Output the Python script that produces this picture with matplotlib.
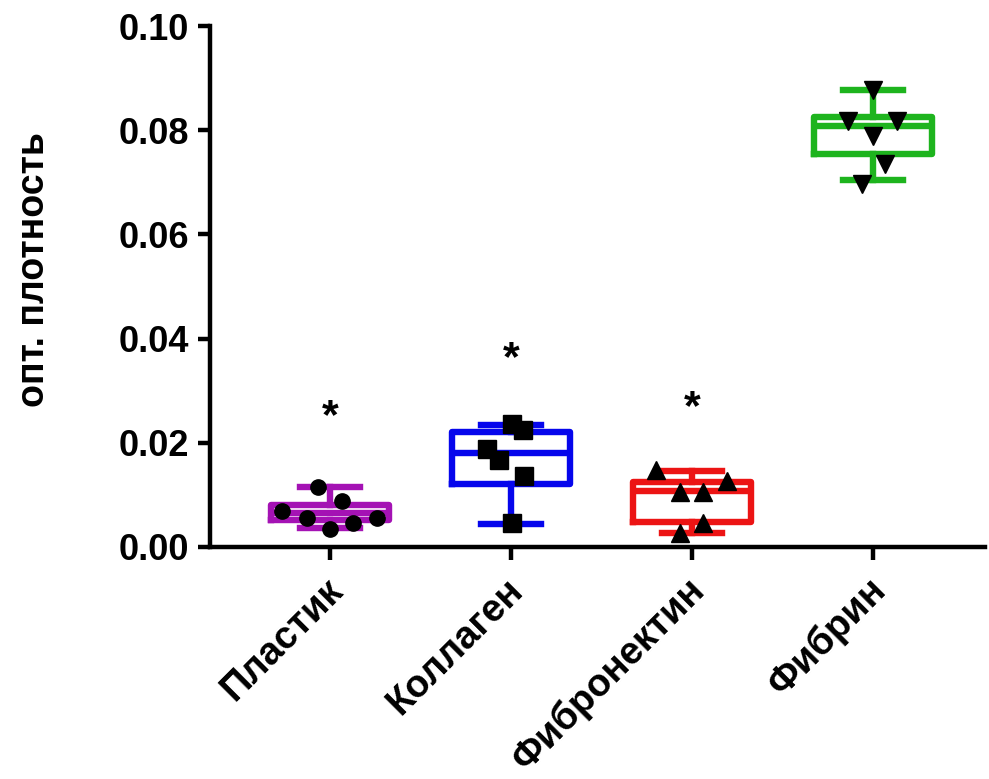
import matplotlib
matplotlib.use("Agg")
import matplotlib.pyplot as plt
import matplotlib.transforms as mtransforms
import numpy as np

plt.rcParams['font.family'] = ['Liberation Sans', 'DejaVu Sans']
plt.rcParams['font.weight'] = 'bold'

# ---- data ----
categories = ["Пластик", "Коллаген", "Фибронектин", "Фибрин"]
colors = ["#A412B4", "#0606EC", "#EC1414", "#1EB41E"]
markers = ["o", "s", "^", "v"]

plastic_vals = [0.0115, 0.0088, 0.0069, 0.0056, 0.0035, 0.0046, 0.0056]
collagen_vals = [0.0236, 0.0225, 0.0189, 0.0167, 0.0136, 0.0047]
fibronectin_vals = [0.0148, 0.0127, 0.0106, 0.0106, 0.0047, 0.0026]
fibrin_vals = [0.0877, 0.0817, 0.0817, 0.0788, 0.0736, 0.0697]

plastic_dx = [-0.065, 0.065, -0.267, -0.129, 0.0, 0.129, 0.258]
collagen_dx = [0.006, 0.066, -0.13, -0.066, 0.07, 0.006]
fibronectin_dx = [-0.199, 0.195, -0.066, 0.062, 0.062, -0.066]
fibrin_dx = [0.0, -0.136, 0.131, 0.0, 0.066, -0.062]

# box statistics (whisker low, q1, median, q3, whisker high)
whislo = [0.0036, 0.0044, 0.0026, 0.0705]
q1 = [0.0052, 0.01215, 0.0048, 0.0754]
med = [0.0065, 0.0180, 0.0107, 0.0808]
q3 = [0.0081, 0.0220, 0.0124, 0.0826]
whishi = [0.0115, 0.0234, 0.0146, 0.0878]

star_y = [0.0250, 0.0360, 0.0267]

values = [plastic_vals, collagen_vals, fibronectin_vals, fibrin_vals]
offsets = [plastic_dx, collagen_dx, fibronectin_dx, fibrin_dx]

fig = plt.figure(figsize=(9.89, 7.79), dpi=100)
ax = fig.add_axes([210/989, 1 - 547/779, 775/989, 521/779])

lw = 4.6
for i in range(4):
    stats = [dict(whislo=whislo[i], q1=q1[i], med=med[i], q3=q3[i],
                  whishi=whishi[i], fliers=[], label=categories[i])]
    c = colors[i]
    ax.bxp(stats, positions=[i], widths=0.65, showfliers=False,
           boxprops=dict(color=c, linewidth=lw),
           medianprops=dict(color=c, linewidth=lw),
           whiskerprops=dict(color=c, linewidth=lw),
           capprops=dict(color=c, linewidth=lw),
           capwidths=0.33, manage_ticks=False, zorder=2)
    xs = i + np.array(offsets[i])
    ms = 11 if markers[i] == 'o' else 12.5
    ax.plot(xs, values[i], linestyle='none', marker=markers[i], color='black',
            markersize=ms, zorder=3)

for i, y in enumerate(star_y):
    ax.text(i, y, "*", ha='center', va='center', fontsize=31,
            fontweight='bold', color='black')

ax.set_xlim(-0.663, 3.619)
ax.set_ylim(0, 0.10)
ax.set_yticks([0.0, 0.02, 0.04, 0.06, 0.08, 0.10])
ax.set_yticklabels(["0.00", "0.02", "0.04", "0.06", "0.08", "0.10"])
ax.set_xticks(range(4))
ax.set_xticklabels(categories, rotation=45, ha='right', va='center',
                   rotation_mode='anchor')

for s in ['top', 'right']:
    ax.spines[s].set_visible(False)
for s in ['left', 'bottom']:
    ax.spines[s].set_linewidth(3.2)

ax.tick_params(axis='both', length=9, width=3.2, labelsize=26, pad=6)
ax.tick_params(axis='x', pad=18, labelsize=27.5)
shift = mtransforms.ScaledTranslation(7/100, 0, fig.dpi_scale_trans)
for lab in ax.get_xticklabels():
    lab.set_transform(lab.get_transform() + shift)
for lab in ax.get_xticklabels() + ax.get_yticklabels():
    lab.set_fontweight('bold')

ax.set_ylabel("опт. плотность", fontsize=27, fontweight='bold')
ax.yaxis.set_label_coords(-0.204, 0.532)

fig.savefig("out.png", dpi=100)
